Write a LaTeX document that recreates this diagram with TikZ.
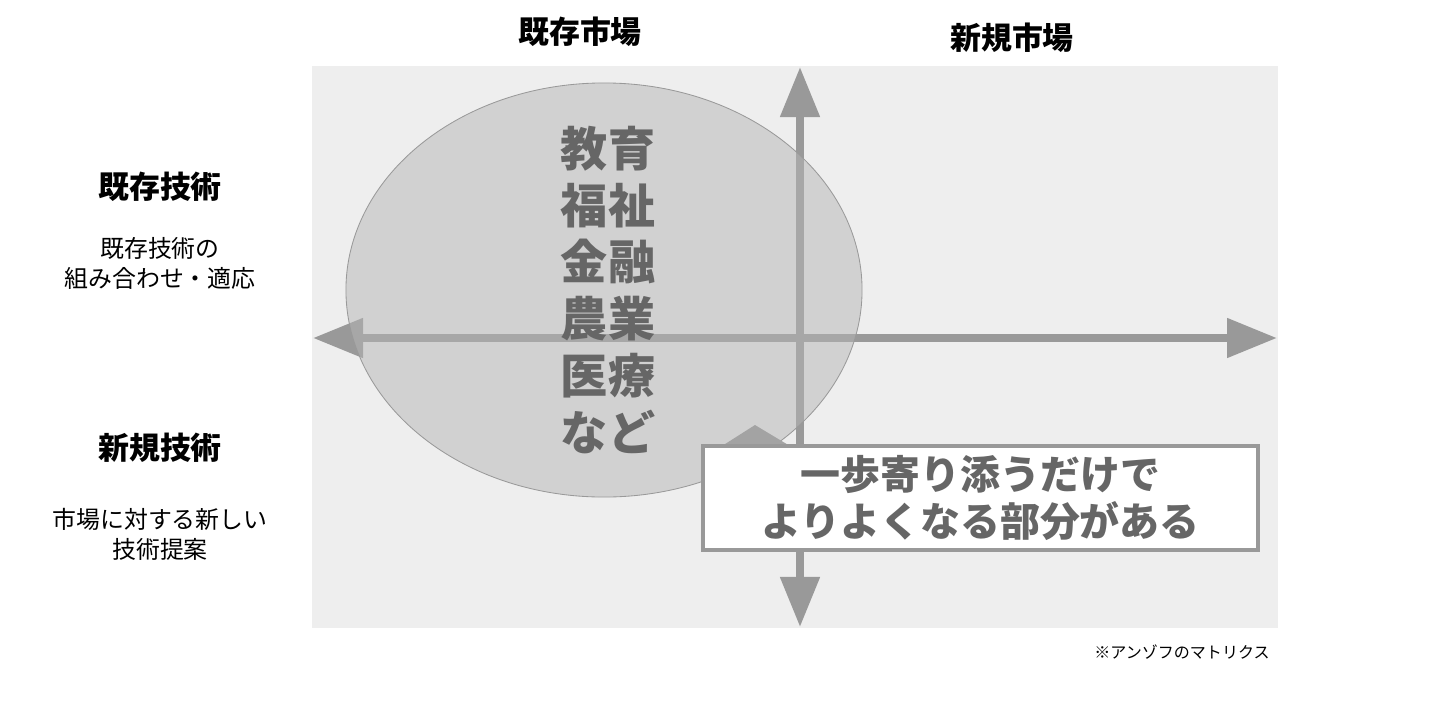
\documentclass[tikz,border=0pt]{standalone}
\usepackage{fontspec}
\setmainfont{Noto Sans CJK JP}
\usetikzlibrary{shapes.geometric, arrows.meta}
\definecolor{bggray}{HTML}{EEEEEE}
\definecolor{axisgray}{HTML}{999999}
\definecolor{textgray}{HTML}{666666}
\definecolor{ellipsegray}{HTML}{B6B6B6}
\tikzstyle{header} = [font=\fontsize{22}{26}\selectfont\bfseries, 
text=black]
\tikzstyle{subnote} = [font=\fontsize{17}{21.3}\selectfont, 
align=center, 
text=black]
\tikzstyle{sector} = [ellipse, 
minimum width=12.9cm, 
minimum height=10.35cm, 
inner sep=0pt, 
draw=axisgray, 
line width=0.6pt, 
fill=ellipsegray, 
fill opacity=0.5]
\tikzstyle{sectortext} = [text=textgray, 
align=center, 
font=\fontsize{33.5}{40.5}\selectfont\bfseries]
\tikzstyle{callout} = [rectangle, 
minimum width=13.875cm, 
minimum height=2.6cm, 
draw=axisgray, 
line width=2.8pt, 
fill=white, 
text=textgray, 
align=center, 
font=\fontsize{28.4}{33.4}\selectfont\bfseries]
\tikzstyle{axis} = [line width=5.7pt, draw=axisgray, 
{Triangle[length=1.25cm, width=0.95cm]}-{Triangle[length=1.25cm, width=0.95cm]}]

\begin{document}
\begin{tikzpicture}[x=0.025cm, y=-0.025cm]
\useasboundingbox (0,0) rectangle (1440,711);

% matrix area
\fill [bggray] (312,66) rectangle (1278,628);

\node (market_old) [header] at (580,32) {既存市場};
\node (market_new) [header] at (1012,38) {新規市場};

\node (tech_old) [header] at (160,187) {既存技術};
\node (tech_old_note) [subnote] at (160,263) {既存技術の\\組み合わせ・適応};
\node (tech_new) [header] at (160,448) {新規技術};
\node (tech_new_note) [subnote] at (160,534) {市場に対する新しい\\技術提案};

% axes
\coordinate (west_end) at (313,338);
\coordinate (east_end) at (1277,338);
\coordinate (north_end) at (800,67);
\coordinate (south_end) at (800,627);
\draw [axis] (west_end) -- (east_end);
\draw [axis] (north_end) -- (south_end);

\node (sectors) [sector] at (604,290) {};
\node (sector_names) [sectortext] at (608,290) {教育\\福祉\\金融\\農業\\医療\\など};

%\fill [axisgray] (callout.north west) ...
\fill [axisgray!90!white] (722,446) -- (755,425) -- (790,446) -- cycle;
\node (callout) [callout] at (980.5,498) {一歩寄り添うだけで\\よりよくなる部分がある};

\node (source) [font=\fontsize{11.4}{14}\selectfont] at (1182,652) {※アンゾフのマトリクス};

\end{tikzpicture}
\end{document}
